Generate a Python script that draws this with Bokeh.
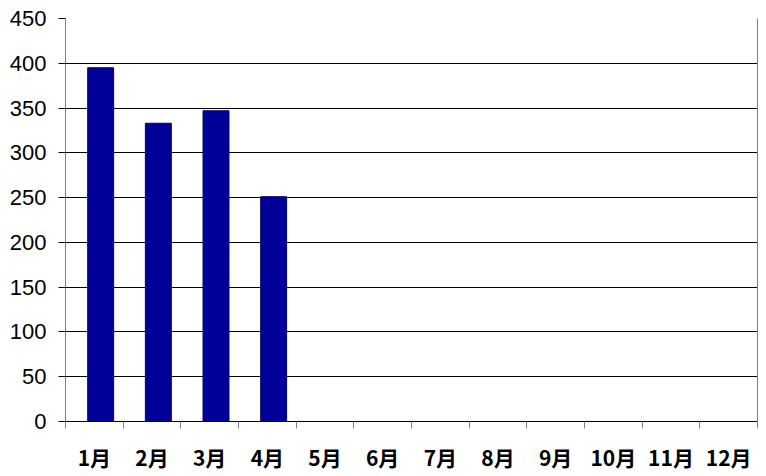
from bokeh.plotting import figure
from bokeh.models import ColumnDataSource, FixedTicker, LinearAxis, Range1d
from bokeh.embed import file_html
from bokeh.resources import INLINE

months = ["1月", "2月", "3月", "4月", "5月", "6月",
          "7月", "8月", "9月", "10月", "11月", "12月"]
values = [395, 333, 347, 251, 0, 0, 0, 0, 0, 0, 0, 0]
y_ticks = [0, 50, 100, 150, 200, 250, 300, 350, 400, 450]

# bars sit a little right of the category centre, like the original
centers = [i + 0.5 for i in range(len(months))]
bar_x = [c + 0.11 for c in centers]
src = ColumnDataSource(data=dict(x=bar_x, top=values, month=months))

p = figure(frame_width=692, frame_height=403, output_backend="svg",
           toolbar_location=None, x_range=Range1d(0, 12), y_range=Range1d(0, 450),
           min_border_left=65, min_border_top=18, min_border_right=2,
           min_border_bottom=10)
p.outline_line_color = None
p.background_fill_color = "white"

p.vbar(x="x", top="top", width=0.45, source=src,
       fill_color="#000099", line_color="#000066", line_width=1)

# y axis
p.yaxis.ticker = FixedTicker(ticks=y_ticks)
p.yaxis.axis_line_color = "#808080"
p.yaxis.major_tick_line_color = "black"
p.yaxis.major_tick_out = 7
p.yaxis.major_tick_in = 0
p.yaxis.minor_tick_line_color = None
p.yaxis.major_label_text_font = "Liberation Sans"
p.yaxis.major_label_text_font_size = "22px"
p.yaxis.major_label_text_color = "black"
p.yaxis.major_label_standoff = 12

# x axis: labels at centres, ticks on category boundaries
p.xaxis.ticker = FixedTicker(ticks=centers, minor_ticks=list(range(len(months) + 1)))
p.xaxis.major_label_overrides = {c: m for c, m in zip(centers, months)}
p.xaxis.major_tick_line_color = None
p.xaxis.minor_tick_line_color = "#808080"
p.xaxis.minor_tick_out = 7
p.xaxis.minor_tick_in = 0
p.xaxis.axis_line_color = "black"
p.xaxis.major_label_text_font = "Noto Sans CJK JP"
p.xaxis.major_label_text_font_size = "21px"
p.xaxis.major_label_text_font_style = "bold"
p.xaxis.major_label_text_color = "black"
p.xaxis.major_label_standoff = 13

p.xgrid.grid_line_color = None
p.ygrid.ticker = FixedTicker(ticks=y_ticks)
p.ygrid.grid_line_color = "black"
p.ygrid.grid_line_width = 1

# right border line
right = LinearAxis(ticker=FixedTicker(ticks=[]), axis_line_color="#808080",
                   major_tick_line_color=None, minor_tick_line_color=None)
p.add_layout(right, "right")

open("out.html", "w").write(file_html(p, INLINE))
